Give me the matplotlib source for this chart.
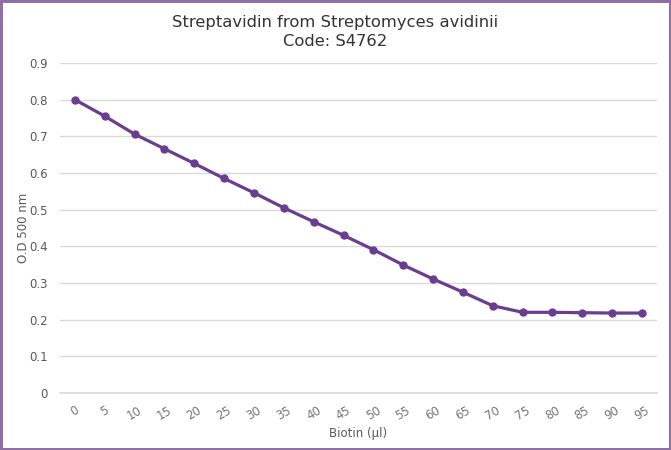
import matplotlib
matplotlib.use('Agg')
import matplotlib.pyplot as plt

biotin = ['0', '5', '10', '15', '20', '25', '30', '35', '40', '45',
          '50', '55', '60', '65', '70', '75', '80', '85', '90', '95']
od_500 = [0.800, 0.755, 0.706, 0.666, 0.626, 0.585, 0.546, 0.505, 0.467, 0.430,
          0.391, 0.349, 0.311, 0.275, 0.238, 0.220, 0.220, 0.219, 0.218, 0.218]
y_ticks = [0, 0.1, 0.2, 0.3, 0.4, 0.5, 0.6, 0.7, 0.8, 0.9]

purple = '#6a3d8f'
grey_text = '#595959'

plt.rcParams['font.family'] = ['DejaVu Sans']

fig = plt.figure(figsize=(6.71, 4.5), dpi=100)
fig.patch.set_edgecolor('#8e6fa6')
fig.patch.set_linewidth(2.5)
ax = fig.add_axes([0.0894, 0.1267, 0.8896, 0.7333])

x = list(range(len(biotin)))
ax.plot(x, od_500, color=purple, linewidth=2.3, marker='o', markersize=5,
        markerfacecolor=purple, markeredgecolor=purple, zorder=3)

ax.set_xlim(-0.5, len(biotin) - 0.5)
ax.set_ylim(0, 0.9)
ax.set_yticks(y_ticks)
ax.set_yticklabels(['0' if v == 0 else f'{v:.1f}' for v in y_ticks])
ax.set_xticks(x)
ax.set_xticklabels(biotin, rotation=30, ha='center')

ax.grid(axis='y', color='#d9d9d9', linewidth=1)
ax.axhline(0, color='#d9d9d9', linewidth=1.2, clip_on=False, zorder=1)
ax.set_axisbelow(True)
for side in ['top', 'right', 'left', 'bottom']:
    ax.spines[side].set_visible(False)
ax.tick_params(axis='both', length=0, labelsize=8.5, colors=grey_text)
ax.tick_params(axis='x', pad=8, labelcolor='#767676')
ax.tick_params(axis='y', pad=9)

ax.set_xlabel('Biotin (µl)', fontsize=8.5, color=grey_text, labelpad=3)
ax.set_ylabel('O.D 500 nm', fontsize=8.5, color=grey_text)
ax.yaxis.set_label_coords(-0.05, 0.5)

fig.text(0.5, 0.967, 'Streptavidin from Streptomyces avidinii\nCode: S4762',
         ha='center', va='top', fontsize=11.8, color='#333333', linespacing=1.35)

fig.savefig('out.png', dpi=100, edgecolor=fig.get_edgecolor())
